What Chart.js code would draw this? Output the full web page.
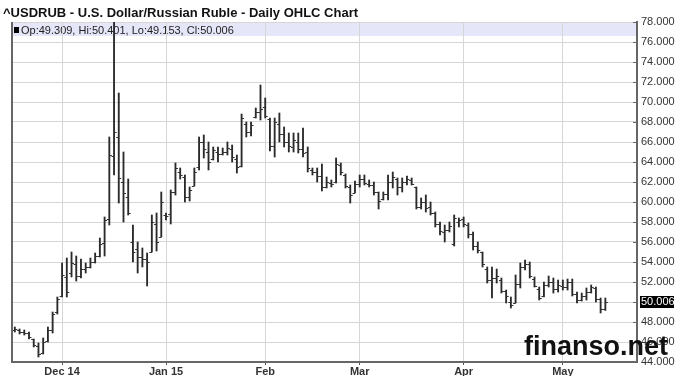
<!DOCTYPE html>
<html>
<head>
<meta charset="utf-8">
<script src="https://cdn.jsdelivr.net/npm/chart.js@4.4.0/dist/chart.umd.min.js"></script>
<style>
html, body { margin: 0; padding: 0; background: #fff; }
</style>
</head>
<body>
<canvas id="myChart" width="680" height="376"></canvas>
<script>
// trading days, mid Nov 2014 - mid May 2015
var dates = [
  '2014-11-17','2014-11-18','2014-11-19','2014-11-20','2014-11-21','2014-11-24','2014-11-25','2014-11-26','2014-11-27','2014-11-28',
  '2014-12-01','2014-12-02','2014-12-03','2014-12-04','2014-12-05','2014-12-08','2014-12-09','2014-12-10','2014-12-11','2014-12-12',
  '2014-12-15','2014-12-16','2014-12-17','2014-12-18','2014-12-19','2014-12-22','2014-12-23','2014-12-24','2014-12-26','2014-12-29',
  '2014-12-30','2014-12-31','2015-01-02','2015-01-05','2015-01-06','2015-01-07','2015-01-08','2015-01-09','2015-01-12','2015-01-13',
  '2015-01-14','2015-01-15','2015-01-16','2015-01-19','2015-01-20','2015-01-21','2015-01-22','2015-01-23','2015-01-26','2015-01-27',
  '2015-01-28','2015-01-29','2015-01-30','2015-02-02','2015-02-03','2015-02-04','2015-02-05','2015-02-06','2015-02-09','2015-02-10',
  '2015-02-11','2015-02-12','2015-02-13','2015-02-16','2015-02-17','2015-02-18','2015-02-19','2015-02-20','2015-02-23','2015-02-24',
  '2015-02-25','2015-02-26','2015-02-27','2015-03-02','2015-03-03','2015-03-04','2015-03-05','2015-03-06','2015-03-09','2015-03-10',
  '2015-03-11','2015-03-12','2015-03-13','2015-03-16','2015-03-17','2015-03-18','2015-03-19','2015-03-20','2015-03-23','2015-03-24',
  '2015-03-25','2015-03-26','2015-03-27','2015-03-30','2015-03-31','2015-04-01','2015-04-02','2015-04-06','2015-04-07','2015-04-08',
  '2015-04-09','2015-04-10','2015-04-13','2015-04-14','2015-04-15','2015-04-16','2015-04-17','2015-04-20','2015-04-21','2015-04-22',
  '2015-04-23','2015-04-24','2015-04-27','2015-04-28','2015-04-29','2015-04-30','2015-05-01','2015-05-04','2015-05-05','2015-05-06',
  '2015-05-07','2015-05-08','2015-05-11','2015-05-12','2015-05-13','2015-05-14'
];

var openP = [
  47.2,47.2,47.0,46.9,46.3,45.6,44.9,46.1,47.2,49.0,
  50.6,52.5,52.9,53.8,52.6,53.3,53.5,54.0,54.6,55.9,
  58.3,64.6,66.5,62.0,60.5,56.0,55.3,54.5,54.3,55.0,
  57.8,56.5,58.7,58.8,61.0,63.0,62.5,60.5,61.6,63.5,
  66.0,65.0,64.3,65.0,64.8,65.0,65.3,64.3,63.6,67.8,
  67.0,68.5,69.0,69.5,68.3,65.6,67.8,66.8,66.0,65.5,
  66.0,65.3,65.0,63.2,63.0,62.6,61.5,61.9,62.0,63.7,
  62.7,61.5,60.9,61.8,62.3,61.8,61.7,61.0,60.3,60.8,
  62.0,62.3,61.5,62.0,62.2,61.5,59.5,60.0,59.5,58.9,
  57.8,57.0,57.2,55.8,58.0,58.3,57.7,56.8,55.6,55.0,
  53.3,52.2,52.4,52.2,51.1,50.0,49.9,51.8,53.5,53.8,
  52.3,51.3,50.6,51.7,52.0,51.3,51.6,51.5,52.0,50.8,
  50.2,50.6,51.0,51.4,50.3,49.309
];
var highP = [
  47.5,47.3,47.2,47.0,46.3,45.9,46.4,47.5,49.0,50.5,
  53.9,54.4,55.0,54.6,54.3,53.9,54.4,54.9,56.4,58.5,
  66.5,78.2,70.9,65.0,62.3,57.7,56.0,55.4,54.9,58.7,
  58.9,61.0,58.9,61.2,63.9,63.4,62.7,61.5,63.4,66.5,
  66.7,66.0,65.5,65.5,65.4,66.0,65.7,64.7,68.8,68.0,
  68.0,69.4,71.7,70.4,68.4,68.4,68.9,67.5,66.9,66.9,
  66.9,67.4,65.5,63.4,63.4,63.8,62.5,62.2,64.4,63.9,
  62.8,61.7,62.1,62.7,62.7,62.2,62.0,61.0,61.0,62.7,
  63.0,62.4,62.4,62.6,62.4,61.5,60.4,60.7,60.0,59.0,
  58.0,57.7,58.0,58.7,58.4,58.5,57.9,57.0,56.0,55.0,
  53.5,53.5,53.3,52.4,51.2,50.5,52.7,53.9,54.2,54.0,
  52.5,51.5,52.0,52.6,52.4,52.2,52.2,52.3,52.3,51.0,
  50.9,51.4,51.7,51.5,50.4,50.401
];
var lowP = [
  47.0,46.8,46.7,46.3,45.5,44.5,44.8,46.0,46.9,48.8,
  50.5,50.5,52.5,52.1,52.4,52.9,53.4,53.9,54.5,54.6,
  57.7,62.7,59.9,58.0,58.7,54.0,52.9,53.5,51.6,55.0,
  55.1,56.5,58.2,57.8,60.7,62.3,60.0,60.1,61.6,63.2,
  64.4,63.2,64.2,64.0,64.7,64.7,64.0,62.9,63.5,66.5,
  66.6,68.4,68.2,68.4,65.1,64.5,66.0,65.5,65.0,65.0,
  64.9,64.5,63.0,62.7,62.0,61.1,61.4,61.5,61.9,62.7,
  61.4,59.9,60.9,61.5,61.7,61.5,60.7,59.3,60.2,60.2,
  61.4,60.7,61.0,61.7,61.7,59.3,59.3,59.0,58.7,57.5,
  56.7,56.0,57.0,55.6,57.5,57.5,56.4,55.2,54.9,53.5,
  51.9,50.4,51.9,50.9,49.9,49.4,49.9,51.4,53.2,52.4,
  51.5,50.2,50.5,51.5,50.9,51.0,51.2,51.2,50.6,49.9,
  50.1,50.2,50.9,50.0,48.9,49.153
];
var closeP = [
  47.3,47.0,46.9,46.5,45.7,44.8,46.0,47.2,48.8,50.3,
  52.7,51.0,53.9,52.6,53.3,53.5,54.0,54.6,55.8,58.2,
  64.7,67.0,62.4,60.9,58.9,55.0,54.5,54.3,54.0,58.0,
  56.0,60.0,58.6,61.0,63.4,62.7,60.5,61.2,63.0,66.0,
  65.3,64.0,65.2,64.8,65.0,65.4,64.5,63.5,68.4,67.0,
  67.7,69.0,69.3,68.6,65.6,68.0,66.8,66.0,65.6,66.2,
  65.3,64.9,63.4,63.0,62.6,61.5,62.0,61.8,63.8,63.0,
  61.6,60.7,61.8,62.3,61.9,61.7,61.0,60.1,60.8,62.0,
  62.5,61.5,62.0,62.3,61.8,59.5,60.0,59.4,58.9,57.8,
  57.1,57.2,57.6,58.4,58.2,57.8,56.8,55.6,55.2,53.8,
  52.2,52.4,52.6,51.1,50.6,49.7,51.8,53.5,53.8,52.6,
  51.6,50.4,51.7,52.0,51.3,51.7,51.5,52.0,50.8,50.2,
  50.6,51.0,51.5,50.3,49.3,50.006
];

var monthTicks = {
  '2014-12-01': 'Dec 14',
  '2015-01-02': 'Jan 15',
  '2015-02-02': 'Feb',
  '2015-03-02': 'Mar',
  '2015-04-01': 'Apr',
  '2015-05-01': 'May'
};

var chartTitle = '^USDRUB - U.S. Dollar/Russian Ruble - Daily OHLC Chart';
var watermark = 'finanso.net';
var last = dates.length - 1;
var FONT = "'Liberation Sans', Arial, sans-serif";

var ohlcPlugin = {
  id: 'ohlc',
  beforeDraw: function(chart) {
    var ctx = chart.ctx, a = chart.chartArea;
    ctx.save();
    // title
    ctx.fillStyle = '#111';
    ctx.font = 'bold 13px ' + FONT;
    ctx.textBaseline = 'alphabetic';
    ctx.fillText(chartTitle, 3, 17);
    // header band with last bar values
    ctx.fillStyle = '#e6e6f9';
    ctx.fillRect(a.left, a.top, a.right - a.left, 14);
    ctx.fillStyle = '#000';
    ctx.fillRect(a.left + 2, a.top + 5, 5, 6);
    ctx.fillStyle = '#222';
    ctx.font = '11px ' + FONT;
    var txt = 'Op:' + openP[last].toFixed(3) + ', Hi:' + highP[last].toFixed(3) +
              ', Lo:' + lowP[last].toFixed(3) + ', Cl:' + closeP[last].toFixed(3);
    ctx.fillText(txt, a.left + 9, a.top + 12);
    ctx.restore();
  },
  afterDatasetsDraw: function(chart) {
    var ctx = chart.ctx, a = chart.chartArea;
    var xs = chart.scales.x, ys = chart.scales.y;
    ctx.save();
    ctx.strokeStyle = '#333';
    ctx.lineWidth = 1;
    ctx.beginPath();
    for (var i = 0; i < dates.length; i++) {
      var x = xs.getPixelForValue(i);
      var yo = Math.round(ys.getPixelForValue(openP[i])) + 0.5;
      var yc = Math.round(ys.getPixelForValue(closeP[i])) + 0.5;
      ctx.moveTo(x - 2.5, yo); ctx.lineTo(x, yo);
      ctx.moveTo(x, yc); ctx.lineTo(x + 2.5, yc);
    }
    ctx.stroke();
    // left frame line
    ctx.strokeStyle = '#666';
    ctx.lineWidth = 2;
    ctx.beginPath();
    ctx.moveTo(a.left, a.top); ctx.lineTo(a.left, a.bottom);
    ctx.stroke();
    // inner tick marks on the price axis
    ctx.lineWidth = 1;
    ctx.beginPath();
    ys.ticks.forEach(function(t) {
      var y = Math.round(ys.getPixelForValue(t.value)) + 0.5;
      ctx.moveTo(a.right - 4, y); ctx.lineTo(a.right, y);
    });
    ctx.stroke();
    ctx.restore();
  },
  afterDraw: function(chart) {
    var ctx = chart.ctx, a = chart.chartArea, ys = chart.scales.y;
    ctx.save();
    // last close marker on the axis
    var y = ys.getPixelForValue(closeP[last]);
    ctx.fillStyle = '#000';
    ctx.fillRect(a.right + 3, Math.round(y) - 6, 34, 12);
    ctx.fillStyle = '#fff';
    ctx.font = '11px ' + FONT;
    ctx.textBaseline = 'middle';
    ctx.fillText(closeP[last].toFixed(3), a.right + 4, y + 0.5);
    // watermark
    ctx.fillStyle = '#111';
    ctx.font = 'bold 27px ' + FONT;
    ctx.textBaseline = 'alphabetic';
    ctx.fillText(watermark, 524, 355);
    ctx.restore();
  }
};

var ctx = document.getElementById('myChart').getContext('2d');
var myChart = new Chart(ctx, {
  type: 'bar',
  data: {
    datasets: [{
      data: dates.map(function(d, i) { return { x: i, y: [lowP[i], highP[i]] }; }),
      backgroundColor: '#2a2a2a',
      borderWidth: 0,
      barThickness: 1.2,
      grouped: false
    }]
  },
  options: {
    responsive: false,
    animation: false,
    layout: { padding: { left: 12, top: 22, right: 0, bottom: 0 } },
    plugins: { legend: { display: false }, tooltip: { enabled: false } },
    scales: {
      x: {
        type: 'linear',
        offset: false,
        min: -0.6,
        max: 131.7,
        afterBuildTicks: function(axis) {
          axis.ticks = dates.map(function(d, i) { return monthTicks[d] ? { value: i } : null; })
                            .filter(function(t) { return t; });
        },
        afterFit: function(s) { s.height = 14; },
        ticks: {
          autoSkip: false,
          maxRotation: 0,
          padding: 0,
          color: '#333',
          font: { family: FONT, size: 11, weight: 'bold' },
          callback: function(v) { return monthTicks[dates[v]] || ''; }
        },
        grid: { offset: false, color: '#d6d6d6', lineWidth: 1, tickLength: 3, tickColor: '#555' },
        border: { color: '#666', width: 2 }
      },
      y: {
        position: 'right',
        min: 44,
        max: 78,
        afterFit: function(s) { s.width = 43; },
        ticks: {
          stepSize: 2,
          padding: 4,
          color: '#333',
          font: { family: FONT, size: 11 },
          callback: function(v) { return v === 50 ? '' : v.toFixed(3); }
        },
        grid: { color: '#d6d6d6', lineWidth: 1, drawTicks: false },
        border: { color: '#666', width: 2 }
      }
    }
  },
  plugins: [ohlcPlugin]
});
</script>
</body>
</html>
